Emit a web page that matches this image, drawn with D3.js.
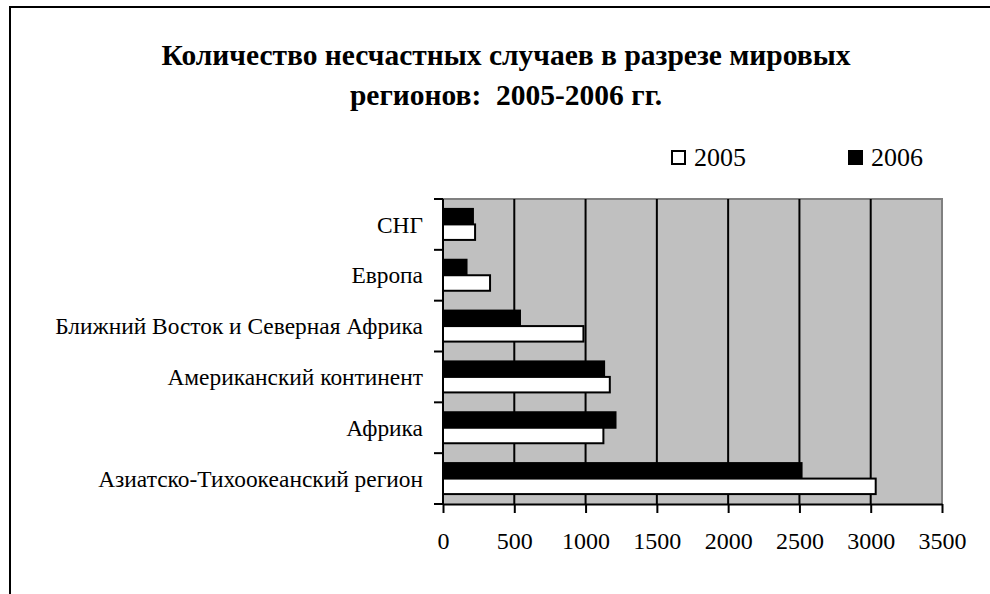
<!DOCTYPE html>
<html>
<head>
<meta charset="utf-8">
<script src="https://cdn.jsdelivr.net/npm/d3@7"></script>
<style>
  body { margin: 0; background: #fff; }
  svg text { font-family: "Liberation Serif", "Times New Roman", serif; fill: #000; }
</style>
</head>
<body>
<div id="chart"></div>
<script>
const regions = [
    "СНГ",
    "Европа",
    "Ближний Восток и Северная Африка",
    "Американский континент",
    "Африка",
    "Азиатско-Тихоокеанский регион"
];
const values2005 = [225, 330, 985, 1170, 1125, 3035];
const values2006 = [210, 165, 540, 1130, 1210, 2515];
const seriesNames = ["2006", "2005"];
const xTicks = [0, 500, 1000, 1500, 2000, 2500, 3000, 3500];
const titleLines = ["Количество несчастных случаев в разрезе мировых", "регионов:  2005-2006 гг."];

const width = 990, height = 594;
const plot = { left: 443, right: 942, top: 199, bottom: 504 };

const svg = d3.select("#chart").append("svg")
    .attr("width", width)
    .attr("height", height);

// chart frame (only top and left edges are visible)
svg.append("path")
    .attr("d", `M 10 ${height} L 10 7 L ${width} 7`)
    .attr("fill", "none")
    .attr("stroke", "#000")
    .attr("stroke-width", 2);

// title
svg.append("text")
    .attr("x", 506)
    .attr("text-anchor", "middle")
    .attr("font-size", 29.5)
    .attr("font-weight", "bold")
    .attr("xml:space", "preserve")
    .style("white-space", "pre")
    .selectAll("tspan")
    .data(titleLines)
    .join("tspan")
      .attr("x", 506)
      .attr("y", (d, i) => 65 + i * 40)
      .text(d => d);

const x = d3.scaleLinear()
    .domain([0, 3500])
    .range([plot.left, plot.right]);

const y = d3.scaleBand()
    .domain(regions)
    .range([plot.top, plot.bottom])
    .paddingInner(0.39)
    .paddingOuter(0.195);

const ySub = d3.scaleBand()
    .domain(seriesNames)
    .range([0, y.bandwidth()]);

// plot area
svg.append("rect")
    .attr("x", plot.left)
    .attr("y", plot.top)
    .attr("width", plot.right - plot.left)
    .attr("height", plot.bottom - plot.top)
    .attr("fill", "#c0c0c0");

svg.append("path")
    .attr("d", `M ${plot.left} ${plot.top} L ${plot.right} ${plot.top} L ${plot.right} ${plot.bottom}`)
    .attr("fill", "none")
    .attr("stroke", "#808080")
    .attr("stroke-width", 2);

// gridlines
svg.append("g")
    .selectAll("line")
    .data(xTicks.slice(1, -1))
    .join("line")
      .attr("x1", d => x(d))
      .attr("x2", d => x(d))
      .attr("y1", plot.top)
      .attr("y2", plot.bottom)
      .attr("stroke", "#000")
      .attr("stroke-width", 2);

// bars
const rows = regions.map((r, i) => ({
    region: r,
    bars: [
        { series: "2006", value: values2006[i] },
        { series: "2005", value: values2005[i] }
    ]
}));

const groups = svg.append("g")
    .selectAll("g")
    .data(rows)
    .join("g")
      .attr("transform", d => `translate(0,${y(d.region)})`);

groups.selectAll("rect")
    .data(d => d.bars)
    .join("rect")
      .attr("x", x(0))
      .attr("y", d => ySub(d.series))
      .attr("width", d => x(d.value) - x(0))
      .attr("height", ySub.bandwidth())
      .attr("fill", d => d.series === "2006" ? "#000" : "#fff")
      .attr("stroke", "#000")
      .attr("stroke-width", 2);

// value axis
const xAxis = svg.append("g")
    .attr("transform", `translate(0,${plot.bottom})`)
    .call(d3.axisBottom(x).tickValues(xTicks).tickFormat(d3.format("d"))
        .tickSize(9).tickPadding(19).tickSizeOuter(0));
xAxis.select(".domain").attr("stroke-width", 2);
xAxis.selectAll(".tick line").attr("stroke-width", 2);
xAxis.selectAll(".tick text")
    .attr("font-size", 24);

// category axis
const catTicks = y.domain().map(d => y(d) - y.step() * y.paddingInner() / 2).concat([plot.bottom]);
svg.append("line")
    .attr("x1", plot.left)
    .attr("x2", plot.left)
    .attr("y1", plot.top)
    .attr("y2", plot.bottom)
    .attr("stroke", "#000")
    .attr("stroke-width", 2);
svg.append("g")
    .selectAll("line")
    .data(catTicks)
    .join("line")
      .attr("x1", plot.left - 9)
      .attr("x2", plot.left)
      .attr("y1", d => d)
      .attr("y2", d => d)
      .attr("stroke", "#000")
      .attr("stroke-width", 2);

svg.append("g")
    .selectAll("text")
    .data(regions)
    .join("text")
      .attr("x", 423)
      .attr("y", d => y(d) + y.bandwidth() / 2)
      .attr("dy", "0.35em")
      .attr("text-anchor", "end")
      .attr("font-size", 23.4)
      .text(d => d);

// legend
const legendItems = [
    { name: "2005", fill: "#fff", x: 671 },
    { name: "2006", fill: "#000", x: 848 }
];
const legend = svg.append("g")
    .selectAll("g")
    .data(legendItems)
    .join("g")
      .attr("transform", d => `translate(${d.x},150)`);
legend.append("rect")
    .attr("x", 1)
    .attr("y", 1)
    .attr("width", 13)
    .attr("height", 13)
    .attr("fill", d => d.fill)
    .attr("stroke", "#000")
    .attr("stroke-width", 2);
legend.append("text")
    .attr("x", 23)
    .attr("y", 16)
    .attr("font-size", 26)
    .text(d => d.name);
</script>
</body>
</html>
